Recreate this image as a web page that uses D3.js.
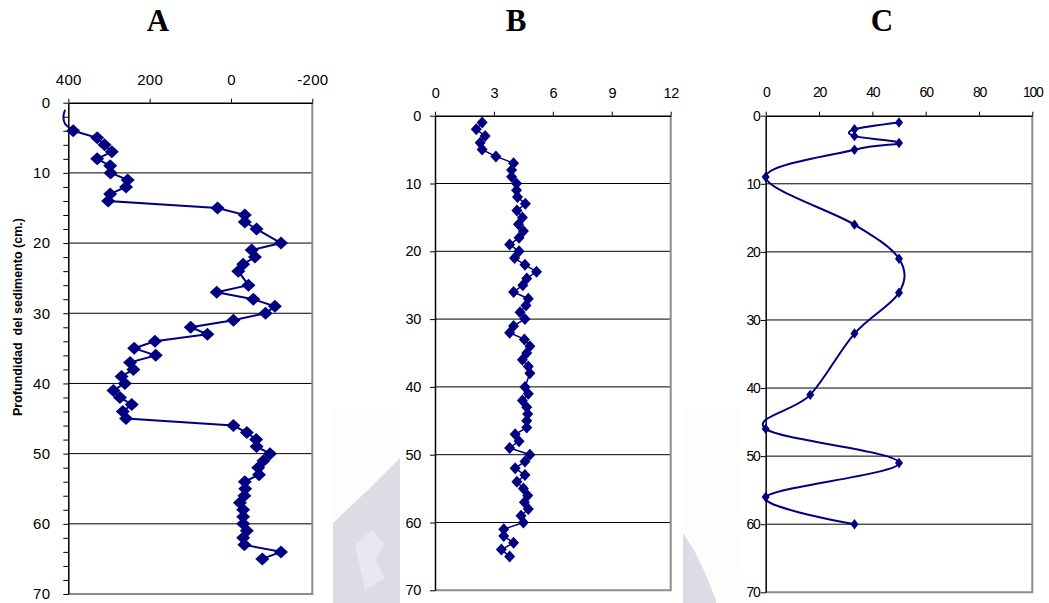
<!DOCTYPE html>
<meta charset="utf-8">
<style>
body { margin: 0; background: #fff; }
svg { font-family: Arial, "Liberation Sans", sans-serif; }
.title { font-family: "Times New Roman", "Liberation Serif", serif; font-weight: bold; font-size: 31px; }
.ylab { font-weight: bold; font-size: 12.5px; white-space: pre; }
</style>
<svg width="1049" height="603"></svg>
<script src="https://d3js.org/d3.v7.min.js"></script>
<script>
// core A : depth (cm) / value
var depthA = [4,5,6,7,8,9,10,11,12,13,14,15,16,17,18,20,21,22,23,24,26,27,28,29,30,31,32,33,34,35,
              36,37,38,39,40,41,42,43,44,45,46,47,48,49,50,51,52,53,54,55,56,57,58,59,60,61,62,63,64,65];
var valueA = [388,329,311,293,329,297,296,254,258,297,302,33,-34,-34,-63,-123,-51,-59,-30,-18,-43,35,-55,-108,-85,-6,99,58,187,238,
              185,248,240,269,261,289,273,244,266,258,-6,-39,-62,-63,-96,-80,-67,-69,-34,-35,-33,-22,-30,-30,-30,-39,-30,-33,-123,-77];
// unmarked start of the A curve
var leadDepthA = [1,2,3,4];
var leadValueA = [408,412,408,388];

// core B
var depthB = [1,2,3,4,5,6,7,8,9,10,11,12,13,14,15,16,17,18,19,20,21,22,23,24,25,26,27,28,29,30,31,32,33,34,35,36,37,38,
              40,41,42,43,44,45,46,47,48,49,50,51,52,53,54,55,56,57,58,59,60,61,62,63,64,65];
var valueB = [2.4,2.1,2.55,2.3,2.4,3.1,4.0,3.9,3.9,4.15,4.15,4.2,4.6,4.17,4.45,4.25,4.5,4.28,3.8,4.28,4.05,4.58,5.17,4.67,4.47,4.0,4.75,4.63,4.33,4.58,4.0,3.8,4.55,4.83,4.67,4.45,4.75,4.83,
              4.58,4.75,4.45,4.67,4.72,4.67,4.67,4.08,4.28,3.8,4.83,4.58,4.08,4.58,4.17,4.5,4.72,4.55,4.75,4.38,4.5,3.5,3.5,4.0,3.38,3.8];

// core C
var depthC = [1,2,3,4,5,9,16,21,26,32,41,46,51,56,60];
var valueC = [50,33.3,33.3,50,33.3,0,33.3,50,50,33.3,16.7,0,50,0,33.3];

var ticksA = [400,200,0,-200];
var ticksB = [0,3,6,9,12];
var ticksC = [0,20,40,60,80,100];
var depthTicks = [0,10,20,30,40,50,60,70];
var gridDepths = [10,20,30,40,50,60];
var minorA = [2,4,6,8,12,14,16,18,22,24,26,28,32,34,36,38,42,44,46,48,52,54,56,58,62,64,66,68];

var svg = d3.select("svg");
var navy = "#000080";

// faint watermark behind the charts
var wm = svg.append("g");
wm.append("rect").attr("x", 333).attr("y", 408).attr("width", 67).attr("height", 195).attr("fill", "#fdfdfb");
wm.append("path").attr("d", "M333,523L352,505L370,488L388,470L400,458V603H333Z").attr("fill", "#dcdce5");
wm.append("path").attr("d", "M355,545L372,530L385,545L375,560L385,578L365,590Z").attr("fill", "#e8e8f0");
wm.append("rect").attr("x", 683).attr("y", 408).attr("width", 57).attr("height", 195).attr("fill", "#fdfdfb");
wm.append("path").attr("d", "M683,533L695,552L706,575L716,600V603H683Z").attr("fill", "#dcdce6");

function diamond(w, h) {
  return "M0," + (-h) + "L" + w + ",0L0," + h + "L" + (-w) + ",0Z";
}

function panel(o) {
  var x = d3.scaleLinear().domain(o.domain).range([o.left, o.right]);
  var y = d3.scaleLinear().domain([0, 70]).range([o.top, o.bottom]);
  var g = svg.append("g");

  g.selectAll("line.grid")
    .data(gridDepths)
    .enter().append("line")
      .attr("x1", o.left).attr("x2", o.right)
      .attr("y1", function(d) { return y(d); })
      .attr("y2", function(d) { return y(d); })
      .attr("stroke", "#000").attr("stroke-width", 1);

  // grey plot border on right and bottom
  g.append("path")
      .attr("d", "M" + o.right + "," + o.top + "V" + o.bottom + "H" + o.left)
      .attr("fill", "none").attr("stroke", "#8c8c8c").attr("stroke-width", 2);

  var top = g.append("g")
      .attr("transform", "translate(0," + o.top + ")")
      .call(d3.axisTop(x).tickValues(o.ticks).tickSize(4).tickSizeOuter(0)
        .tickPadding(o.xPad).tickFormat(function(d) { return String(d); }));
  top.select(".domain").attr("stroke", "#000").attr("stroke-width", 1.5);
  top.selectAll("text").attr("font-size", o.fs).attr("fill", "#000")
      .attr("font-family", "Arial, 'Liberation Sans', sans-serif")
      .attr("letter-spacing", o.ls);

  var left = g.append("g")
      .attr("transform", "translate(" + o.left + ",0)")
      .call(d3.axisLeft(y).tickValues(depthTicks).tickSize(5).tickSizeOuter(0)
        .tickPadding(o.yPad).tickFormat(function(d) { return String(d); }));
  left.select(".domain").attr("stroke", "#000").attr("stroke-width", 1.5);
  left.selectAll("text").attr("font-size", o.fs).attr("fill", "#000")
      .attr("font-family", "Arial, 'Liberation Sans', sans-serif")
      .attr("letter-spacing", o.ls);

  if (o.minor) {
    g.append("g")
        .attr("transform", "translate(" + o.left + ",0)")
        .call(d3.axisLeft(y).tickValues(o.minor).tickSize(5).tickFormat(""))
      .select(".domain").remove();
  }

  var line = d3.line()
      .x(function(d) { return x(d[1]); })
      .y(function(d) { return y(d[0]); })
      .curve(o.curve);

  var pts = o.depth.map(function(d, i) { return [d, o.value[i]]; });

  if (o.lead) {
    g.append("path")
        .datum(o.lead[0].map(function(d, i) { return [d, o.lead[1][i]]; }))
        .attr("d", d3.line().x(function(d) { return x(d[1]); }).y(function(d) { return y(d[0]); })
          .curve(d3.curveCatmullRom.alpha(0)))
        .attr("fill", "none").attr("stroke", navy).attr("stroke-width", o.lw);
  }

  g.append("path")
      .datum(pts)
      .attr("d", line)
      .attr("fill", "none").attr("stroke", navy).attr("stroke-width", o.lw);

  g.selectAll("path.mk")
    .data(pts)
    .enter().append("path")
      .attr("class", "mk")
      .attr("transform", function(d) { return "translate(" + x(d[1]) + "," + y(d[0]) + ")"; })
      .attr("d", diamond(o.mw, o.mh))
      .attr("fill", navy);

  svg.append("text")
      .attr("class", "title")
      .attr("x", o.titleX).attr("y", 31)
      .attr("text-anchor", "middle")
      .text(o.title);
}

panel({ title: "A", titleX: 158, left: 68.3, right: 312.3, top: 102.7, bottom: 594,
        domain: [400, -200], ticks: ticksA, depth: depthA, value: valueA, lead: [leadDepthA, leadValueA],
        minor: minorA, xPad: 14, yPad: 13, fs: "15px", ls: 0.3,
        curve: d3.curveLinear, lw: 2, mw: 7, mh: 6.5 });

panel({ title: "B", titleX: 516, left: 435, right: 670.7, top: 115.7, bottom: 590.3,
        domain: [0, 12], ticks: ticksB, depth: depthB, value: valueB,
        xPad: 14, yPad: 9, fs: "14.5px", ls: -0.3,
        curve: d3.curveLinear, lw: 1.5, mw: 5.5, mh: 6 });

panel({ title: "C", titleX: 882, left: 765.7, right: 1032.3, top: 115.7, bottom: 592.3,
        domain: [0, 100], ticks: ticksC, depth: depthC, value: valueC,
        xPad: 15, yPad: 1, fs: "14px", ls: -1.2,
        curve: d3.curveCatmullRom.alpha(0), lw: 2, mw: 4, mh: 5.2 });

svg.append("text")
    .attr("class", "ylab")
    .attr("transform", "translate(22,317) rotate(-90)")
    .attr("text-anchor", "middle")
    .text("Profundidad  del sedimento (cm.)");
</script>
